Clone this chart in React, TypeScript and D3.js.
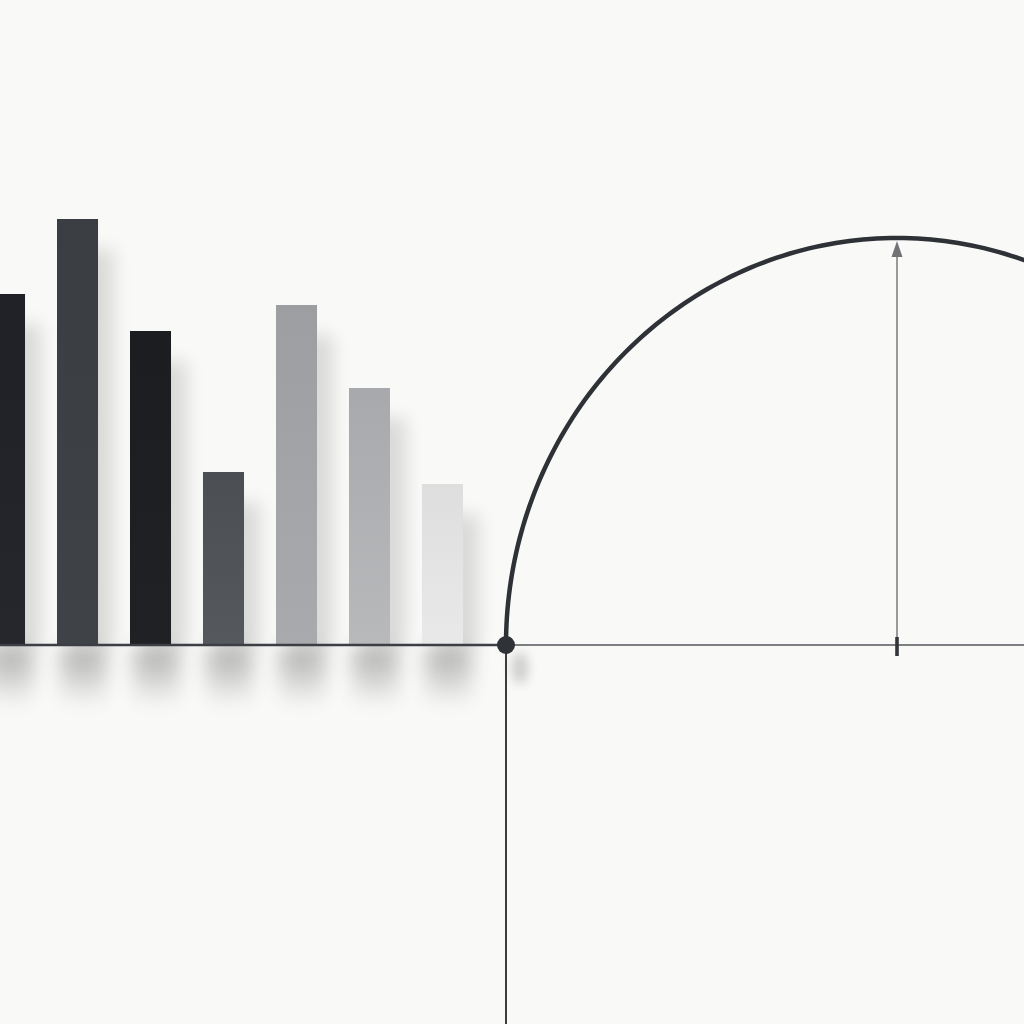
import React from "react";
import * as d3 from "d3";

const categories = ["A", "B", "C", "D", "E", "F", "G"];
const values = [351, 426, 314, 173, 340, 257, 161];
const barColors = ["#1f2126", "#3a3d42", "#1c1d21", "#4b4e53", "#9c9ea1", "#a8a9ac", "#dedede"];
const barColorsBottom = ["#25272c", "#3f4247", "#202125", "#55585c", "#a9aaad", "#b8b9bb", "#e9e9e9"];
// right panel: half-ellipse from origin to peak
const arcOrigin = [0, 0];
const arcPeak = [1, 1];

const W = 1024;
const H = 1024;
const baseY = 645;

export default function App() {
  const x = d3
    .scaleBand<string>()
    .domain(categories)
    .range([-16, 463])
    .paddingInner(0.438)
    .paddingOuter(0);
  const y = d3.scaleLinear().domain([0, 450]).range([baseY, baseY - 450]);

  // right panel scales
  const ax = d3.scaleLinear().domain([0, 1]).range([506, 897]);
  const ay = d3.scaleLinear().domain([0, 1]).range([baseY, 238]);
  const rx = ax(arcPeak[0]) - ax(arcOrigin[0]);
  const ry = ay(arcOrigin[1]) - ay(arcPeak[1]);
  const cx = ax(arcPeak[0]);
  const cy = ay(arcOrigin[1]);
  const pts: [number, number][] = d3.range(0, 181).map((i) => {
    const t = Math.PI - (i / 180) * Math.PI;
    return [cx + rx * Math.cos(t), cy - ry * Math.sin(t)];
  });
  const arcPath = d3.line()(pts) || "";

  return (
    <div style={{ position: "fixed", left: 0, top: 0, width: W, height: H }}>
      <svg width={W} height={H} viewBox={`0 0 ${W} ${H}`} style={{ display: "block" }}>
        <defs>
          <filter id="blurS" x="-50%" y="-50%" width="200%" height="200%">
            <feGaussianBlur stdDeviation="9" />
          </filter>
          <filter id="blurB" x="-50%" y="-50%" width="200%" height="200%">
            <feGaussianBlur stdDeviation="10" />
          </filter>
          <filter id="blurD" x="-100%" y="-100%" width="300%" height="300%">
            <feGaussianBlur stdDeviation="6" />
          </filter>
          <linearGradient id="under" x1="0" y1="0" x2="0" y2="1">
            <stop offset="0" stopColor="#000" stopOpacity="0.45" />
            <stop offset="1" stopColor="#000" stopOpacity="0" />
          </linearGradient>
          {categories.map((c, i) => (
            <linearGradient key={c} id={`bg${i}`} x1="0" y1="0" x2="0" y2="1">
              <stop offset="0" stopColor={barColors[i]} />
              <stop offset="1" stopColor={barColorsBottom[i]} />
            </linearGradient>
          ))}
        </defs>
        <rect width={W} height={H} fill="#f9f9f8" />

        {/* bar side shadows */}
        {categories.map((c, i) => (
          <rect
            key={`s${c}`}
            x={(x(c) as number) + 16}
            y={y(values[i]) + 30}
            width={x.bandwidth()}
            height={baseY - y(values[i]) - 30}
            fill="#000"
            opacity={0.12}
            filter="url(#blurS)"
          />
        ))}
        {/* shadows under baseline */}
        {categories.map((c, i) => (
          <rect
            key={`u${c}`}
            x={(x(c) as number) + 4}
            y={baseY + 2}
            width={x.bandwidth() + 4}
            height={60}
            fill="url(#under)"
            opacity={0.7}
            filter="url(#blurB)"
          />
        ))}

        {/* bars */}
        {categories.map((c, i) => (
          <rect
            key={c}
            x={x(c) as number}
            y={y(values[i])}
            width={x.bandwidth()}
            height={baseY - y(values[i])}
            fill={`url(#bg${i})`}
          />
        ))}

        {/* baseline */}
        <line x1={0} x2={506} y1={baseY} y2={baseY} stroke="#3b3e43" strokeWidth={2.5} />
        <line x1={506} x2={W} y1={baseY} y2={baseY} stroke="#7d7f82" strokeWidth={2} />

        {/* vertical axis down */}
        <line x1={506} x2={506} y1={baseY} y2={H} stroke="#3a3d42" strokeWidth={2} />

        {/* dot shadow */}
        <ellipse cx={520} cy={668} rx={8} ry={16} fill="#000" opacity={0.18} filter="url(#blurD)" />

        {/* arc */}
        <path d={arcPath} fill="none" stroke="#2e3237" strokeWidth={4.5} strokeLinecap="round" />

        {/* radius arrow */}
        <line x1={ax(1)} x2={ax(1)} y1={baseY + 8} y2={ay(1) + 14} stroke="#7f8184" strokeWidth={1.6} />
        <path
          d={`M${ax(1)},${ay(1) + 3} L${ax(1) - 5.5},${ay(1) + 19} L${ax(1) + 5.5},${ay(1) + 19} Z`}
          fill="#707275"
        />
        <rect x={ax(1) - 1.8} y={baseY - 8} width={3.6} height={19} fill="#333639" />

        {/* origin dot */}
        <circle cx={506} cy={baseY} r={9} fill="#2f3338" />
      </svg>
    </div>
  );
}
